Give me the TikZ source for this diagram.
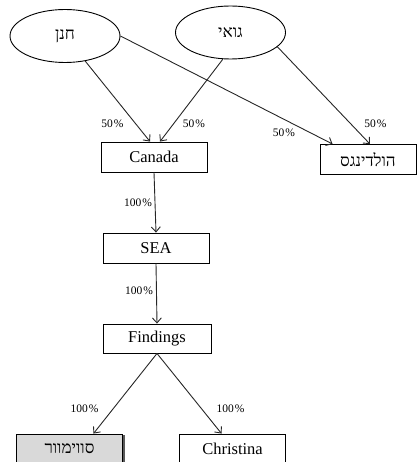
\documentclass[tikz,border=0pt]{standalone}
\usepackage{fontspec}
\setmainfont{Liberation Serif}
\newfontfamily\hebfont[Script=Hebrew]{Liberation Serif}
\TeXXeTstate=1
\usepackage{tikz}
\usetikzlibrary{calc, arrows.meta, shapes.geometric, shadows, positioning}

\tikzset{
  owner/.style={ellipse, draw, line width=0.9pt, inner sep=0pt,
    minimum width=110pt, minimum height=53pt, font=\hebfont\fontsize{17}{20}\selectfont},
  firm/.style={rectangle, draw, line width=0.9pt, inner sep=0pt,
    minimum width=106pt, minimum height=30pt, font=\fontsize{16.5}{20}\selectfont},
  pct/.style={inner sep=0pt, font=\fontsize{11.5}{13}\selectfont},
  own/.style={->, line width=0.9pt, draw=black!85}
}

\begin{document}
\begin{tikzpicture}[x=1pt, y=-1pt, >={Straight Barb[length=5pt,width=9pt]}]
    \useasboundingbox (0,0) rectangle (417,462);

    % owners
    \node[owner] (hanan) at (65,36) {\beginR חנן\endR};
    \node[owner] (joey)  at (230.5,32.5) {\beginR גואי\endR};

    % companies
    \node[firm] (canada)   at (154,157) {Canada};
    \node[firm, minimum width=96pt, font=\hebfont\fontsize{17}{20}\selectfont] (holdings) at (368,159.5) {\beginR הולדינגס\endR};
    \node[firm] (sea)      at (156,248) {SEA};
    \node[firm, minimum width=108pt, minimum height=29pt] (findings) at (157,338.5) {Findings};
    \node[firm, fill=black!15, font=\hebfont\fontsize{17}{20}\selectfont,
      drop shadow={shadow xshift=2.5pt, shadow yshift=-1pt, fill=black!65, opacity=1}] (swim) at (69.5,449) {\beginR סווימוור\endR};
    \node[firm] (christina) at (232.5,449) {Christina};

    % holdings
    \draw[own] (hanan) -- ($(canada.north)+(-4,0)$);
    \draw[own] (joey.-106) -- ($(canada.north)+(6,0)$);
    \draw[own] (hanan.east) -- ($(holdings.north west)+(13,0)$);
    \draw[own] (joey.-17) -- ($(holdings.north)+(2,0)$);
    \draw[own] (canada.south) -- (sea.north);
    \draw[own] (sea.south) -- (findings.north);
    \draw[own] (findings.south) -- ($(swim.north)+(24,0)$);
    \draw[own] (findings.south) -- ($(christina.north)+(-11,0)$);

    % percentages
    \node[pct] (p1) at (112.5,124) {50\kern1pt\%};
    \node[pct] (p2) at (194,124) {50\kern1pt\%};
    \node[pct] (p3) at (284,133) {50\kern1pt\%};
    \node[pct] (p4) at (375.5,124) {50\kern1pt\%};
    \node[pct] (p5) at (138,203) {100\kern1pt\%};
    \node[pct] (p6) at (139,291) {100\kern1pt\%};
    \node[pct] (p7) at (84.5,409) {100\kern1pt\%};
    \node[pct] (p8) at (230.5,409) {100\kern1pt\%};
\end{tikzpicture}
\end{document}
